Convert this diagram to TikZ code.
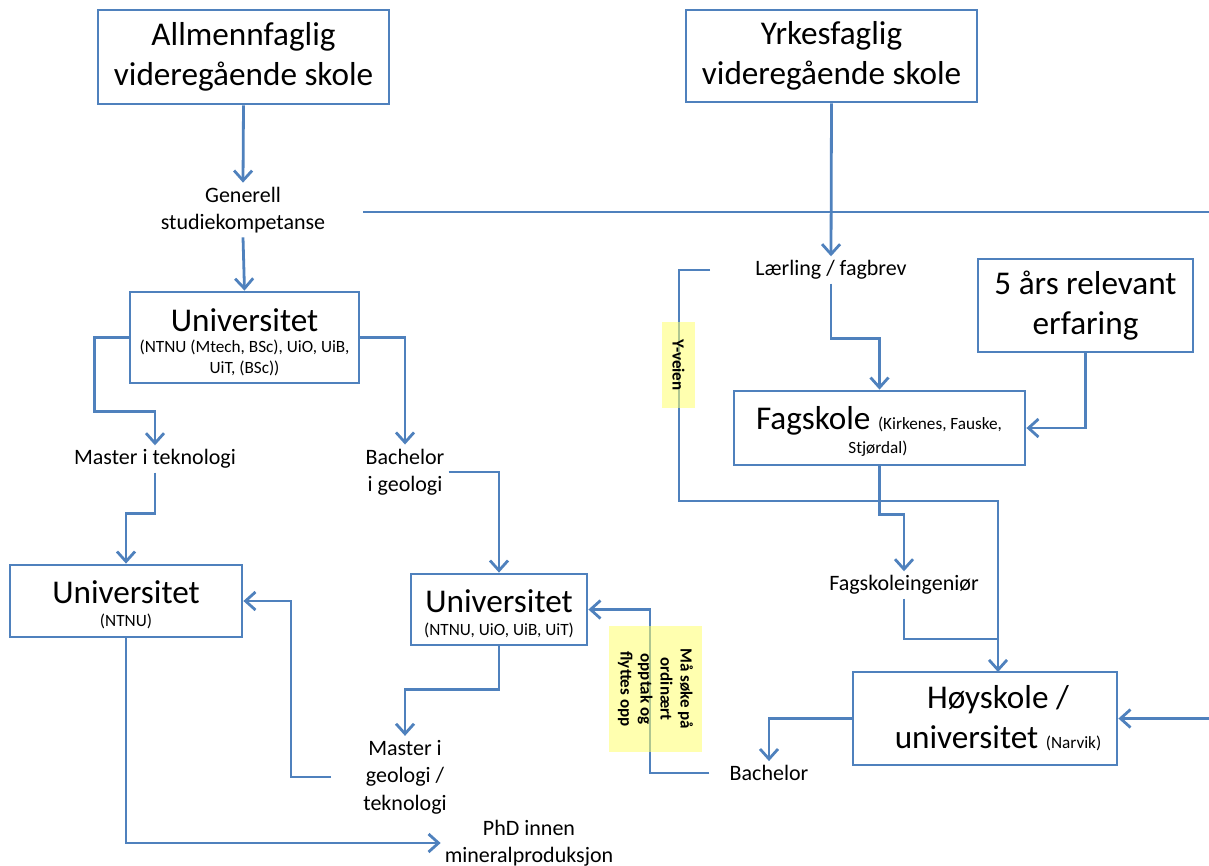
\documentclass[tikz,border=0pt]{standalone}
\usepackage{fontspec}
\setmainfont{Carlito}
\usetikzlibrary{arrows.meta}
\definecolor{ln}{RGB}{79,129,189}
\definecolor{yel}{RGB}{255,255,110}
\newcommand{\bigf}{\fontsize{33.2}{40}\selectfont}
\newcommand{\midf}{\fontsize{22}{27.5}\selectfont}
\newcommand{\smf}{\fontsize{17.2}{21}\selectfont}
\begin{document}
\begin{tikzpicture}[x=1pt,y=-1pt,
  box/.style={draw=ln, line width=2.8pt, fill=white, inner sep=0pt},
  bigtxt/.style={font=\bigf, align=center, inner sep=0pt},
  smtxt/.style={font=\smf, align=center, inner sep=0pt},
  lbl/.style={font=\midf, align=center, inner sep=4pt},
  conn/.style={draw=ln, line width=2.8pt},
  arr/.style={conn, -{Straight Barb[length=10pt,width=18pt]}},
  note/.style={fill=yel, fill opacity=0.55, text opacity=1, font=\bfseries\fontsize{17}{20}\selectfont, align=center, rotate=-90, inner sep=0pt}]
\useasboundingbox (0,0) rectangle (1209,865);

% boxes
\node[box, minimum width=291pt, minimum height=94pt] (A) at (243.5,57) {};
\node[bigtxt] (At) at (243.5,57) {Allmennfaglig\\videregående skole};
\node[box, minimum width=291pt, minimum height=92pt] (Y) at (831.5,56) {};
\node[bigtxt] (Yt) at (831.5,56) {Yrkesfaglig\\videregående skole};

\node[box, minimum width=229pt, minimum height=91pt] (U1) at (244.5,337.5) {};
\node[bigtxt] (U1a) at (244.5,320) {Universitet};
\node[smtxt] (U1b) at (244.5,357.5) {(NTNU (Mtech, BSc), UiO, UiB,\\UiT, (BSc))};

\node[box, minimum width=232pt, minimum height=72pt] (U2) at (126,601) {};
\node[bigtxt] (U2a) at (126,592) {Universitet};
\node[smtxt] (U2b) at (126,621) {(NTNU)};

\node[box, minimum width=176pt, minimum height=71pt] (U3) at (499,609.5) {};
\node[bigtxt] (U3a) at (499,601) {Universitet};
\node[smtxt] (U3b) at (499,630) {(NTNU, UiO, UiB, UiT)};

\node[box, minimum width=291pt, minimum height=74pt] (F) at (879.5,428) {};
\node[anchor=base, inner sep=0pt] (Fa) at (879,429) {{\bigf Fagskole\ }{\smf (Kirkenes, Fauske,}};
\node[anchor=base, inner sep=0pt, font=\smf] (Fb) at (878,453) {Stjørdal)};

\node[box, minimum width=215pt, minimum height=93pt] (five) at (1085.5,305.5) {};
\node[bigtxt] (fivet) at (1085.5,305.5) {5 års relevant\\erfaring};

\node[box, minimum width=264pt, minimum height=93pt] (H) at (985,718.5) {};
\node[anchor=base, inner sep=0pt, font=\bigf] (Ha) at (998,708) {Høyskole /};
\node[anchor=base, inner sep=0pt] (Hb) at (998,748) {{\bigf universitet\ }{\smf (Narvik)}};

% text nodes
\node[lbl] (gen) at (243,210) {Generell\\studiekompetanse};
\node[lbl] (laer) at (831,270) {Lærling / fagbrev};
\node[lbl] (m1) at (155,459) {Master i teknologi};
\node[lbl] (b1) at (405,472) {Bachelor\\i geologi};
\node[lbl] (m2) at (405,777) {Master i\\geologi /\\teknologi};
\node[lbl] (phd) at (529,843) {PhD innen\\mineralproduksjon};
\node[lbl] (fing) at (904,585) {Fagskoleingeniør};
\node[lbl] (b2) at (769,773) {Bachelor};

% coordinates
\coordinate (h1) at (363,212);
\coordinate (h2) at (1209,212);
\coordinate (k1) at (291,601);
\coordinate (k2) at (650,609.5);
\coordinate (k3) at (679,501);
\coordinate (hn) at (998,672);
\coordinate (k4) at (998,639);
\coordinate (r1) at (1209,718.5);

% connectors
\draw[arr] (A.south) -- (gen.north);
\draw[conn] (h1) -- (h2);
\draw[arr] (Y.south) -- (laer.north);
\draw[arr] (gen.south) -- (U1.north);
\draw[arr] (U1.west) -- ++(-34,0) -- ++(0,74) -| (m1.north);
\draw[arr] (U1.east) -| (b1.north);
\draw[arr] (m1.south) -- ++(0,41) -| (U2.north);
\draw[arr] (b1.east) -| (U3.north);
\draw[arr] (U3.south) -- ++(0,43) -| (m2.north);
\draw[arr, shorten <=28pt] (m2.west) -| (k1) -- (U2.east);
\draw[arr] (U2.south) |- (phd.west);
\draw[arr, shorten <=16pt] (b2.west) -| (k2) -- (U3.east);
\draw[arr, shorten <=41pt] (laer.west) -| (k3) -| (hn);
\draw[arr] (laer.south) -- ++(0,55) -| (F.north);
\draw[arr] (five.south) |- (F.east);
\draw[arr] (F.south) -- ++(0,48) -| (fing.north);
\draw[conn] (fing.south) |- (k4);
\draw[arr] (r1) -- (H.east);
\draw[arr] (H.west) -| (b2.north);

% yellow notes
\node[note, minimum width=126pt, minimum height=93pt] (n1) at (655.5,689) {Må søke på\\ordinært\\opptak og\\flyttes opp};
\node[note, minimum width=86pt, minimum height=33pt] (n2) at (678.5,365) {Y-veien};
\end{tikzpicture}
\end{document}
